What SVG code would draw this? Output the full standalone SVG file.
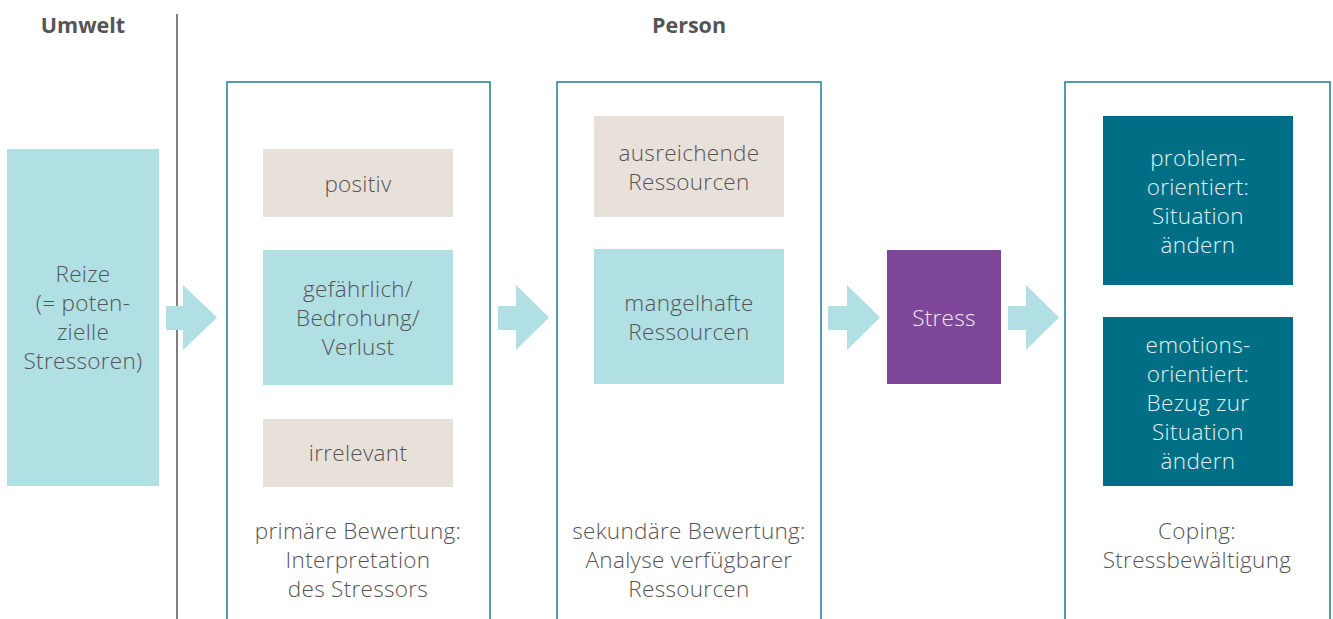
<svg xmlns="http://www.w3.org/2000/svg" width="1333" height="619" viewBox="0 0 1333 619">
<defs>
<style>
.t{font-family:"Open Sans","Liberation Sans",sans-serif;font-weight:300;font-size:22.5px;letter-spacing:0.3px;fill:#555;text-anchor:middle}
.h{font-family:"Open Sans","Liberation Sans",sans-serif;font-weight:700;font-size:21.5px;fill:#555;text-anchor:middle}
.frame{fill:none;stroke:#1a7f96;stroke-width:1.5}
.light{fill:#b0dfe4}
.beige{fill:#e8e1da}
.dark{fill:#006f85}
.arrow{fill:#b0dfe4}
</style>
</defs>
<rect width="1333" height="619" fill="#fff"/>
<g id="headers">
<text class="h" x="83" y="33">Umwelt</text>
<text class="h" x="689" y="33">Person</text>
<line x1="177" y1="14" x2="177" y2="619" stroke="#555" stroke-width="1.5"/>
</g>
<g id="reize">
<rect class="light" x="7" y="149" width="152" height="337"/>
<text class="t"><tspan x="83" y="282">Reize</tspan><tspan x="83" y="311">(= poten-</tspan><tspan x="83" y="340">zielle</tspan><tspan x="83" y="369">Stressoren)</tspan></text>
</g>
<g id="primaer">
<rect class="frame" x="227" y="82" width="263" height="545"/>
<text class="t"><tspan x="358" y="539">primäre Bewertung:</tspan><tspan x="358" y="568">Interpretation</tspan><tspan x="358" y="597">des Stressors</tspan></text>
</g>
<g id="positiv">
<rect class="beige" x="263" y="149" width="190" height="68"/>
<text class="t" x="358" y="192">positiv</text>
</g>
<g id="gefaehrlich">
<rect class="light" x="263" y="250" width="190" height="135"/>
<text class="t"><tspan x="358" y="297">gefährlich/</tspan><tspan x="358" y="326">Bedrohung/</tspan><tspan x="358" y="355">Verlust</tspan></text>
</g>
<g id="irrelevant">
<rect class="beige" x="263" y="419" width="190" height="68"/>
<text class="t" x="358" y="461">irrelevant</text>
</g>
<g id="sekundaer">
<rect class="frame" x="557" y="82" width="264" height="545"/>
<text class="t"><tspan x="689" y="539">sekundäre Bewertung:</tspan><tspan x="689" y="568">Analyse verfügbarer</tspan><tspan x="689" y="597">Ressourcen</tspan></text>
</g>
<g id="ausreichend">
<rect class="beige" x="594" y="116" width="190" height="101"/>
<text class="t"><tspan x="689" y="161">ausreichende</tspan><tspan x="689" y="190">Ressourcen</tspan></text>
</g>
<g id="mangelhaft">
<rect class="light" x="594" y="249" width="190" height="135"/>
<text class="t"><tspan x="689" y="311">mangelhafte</tspan><tspan x="689" y="340">Ressourcen</tspan></text>
</g>
<g id="stress">
<rect x="887" y="250" width="114" height="134" fill="#7f4799"/>
<text class="t" x="944" y="326" style="fill:#f2eaf5">Stress</text>
</g>
<g id="coping">
<rect class="frame" x="1065" y="82" width="265" height="545"/>
<text class="t"><tspan x="1197" y="539">Coping:</tspan><tspan x="1197" y="568">Stressbewältigung</tspan></text>
</g>
<g id="problem">
<rect class="dark" x="1103" y="116" width="190" height="169"/>
<text class="t" style="fill:#e0f1f4"><tspan x="1198" y="166">problem-</tspan><tspan x="1198" y="195">orientiert:</tspan><tspan x="1198" y="224">Situation</tspan><tspan x="1198" y="253">ändern</tspan></text>
</g>
<g id="emotion">
<rect class="dark" x="1103" y="317" width="190" height="169"/>
<text class="t" style="fill:#e0f1f4"><tspan x="1198" y="353">emotions-</tspan><tspan x="1198" y="382">orientiert:</tspan><tspan x="1198" y="411">Bezug zur</tspan><tspan x="1198" y="440">Situation</tspan><tspan x="1198" y="469">ändern</tspan></text>
</g>
<g id="connectors">
<path class="arrow" d="M166,306 H183 V285 L217,317.5 L183,350 V330 H166 Z"/>
<path class="arrow" d="M498,306 H516 V285 L549,317.5 L516,350 V330 H498 Z"/>
<path class="arrow" d="M828,306 H847 V285 L880,317.5 L847,350 V330 H828 Z"/>
<path class="arrow" d="M1008,306 H1026 V285 L1059,317.5 L1026,350 V330 H1008 Z"/>
</g>
</svg>
